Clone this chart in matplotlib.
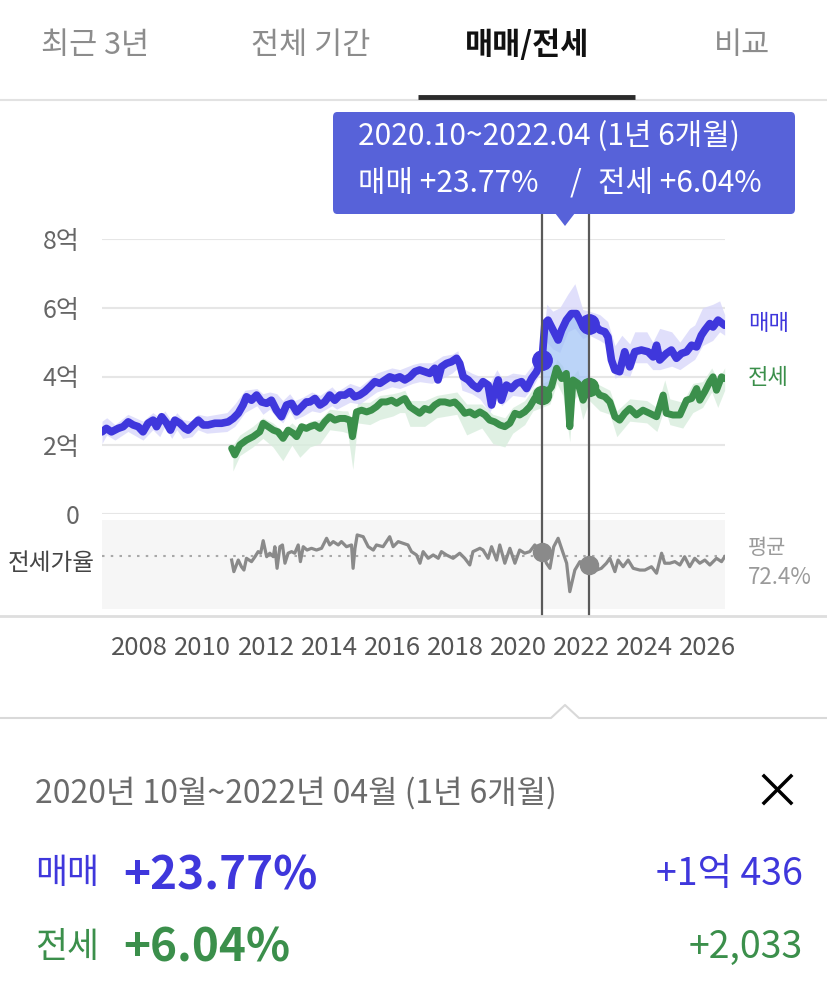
import numpy as np
import matplotlib
matplotlib.use("Agg")
import matplotlib.pyplot as plt
from matplotlib.patches import FancyBboxPatch, Polygon
from matplotlib.lines import Line2D

plt.rcParams['font.family'] = ['Noto Sans CJK KR', 'DejaVu Sans']

# ---- data (prices in 억 원, dates as decimal years) ----
# 매매 (sale) price line
blue_pts = [
    (2006.80, 2.39), (2006.94, 2.49), (2007.10, 2.39), (2007.31, 2.49), (2007.47, 2.54),
    (2007.63, 2.68), (2007.79, 2.59), (2007.95, 2.54), (2008.10, 2.39), (2008.26, 2.64),
    (2008.42, 2.73), (2008.53, 2.54), (2008.69, 2.83), (2008.85, 2.64), (2008.97, 2.44),
    (2009.11, 2.73), (2009.27, 2.64), (2009.43, 2.49), (2009.53, 2.44), (2009.69, 2.59),
    (2009.85, 2.73), (2010.01, 2.59), (2010.16, 2.59), (2010.38, 2.64), (2010.59, 2.64),
    (2010.80, 2.68), (2010.96, 2.78), (2011.12, 2.93), (2011.27, 3.17), (2011.38, 3.41),
    (2011.54, 3.31), (2011.70, 3.46), (2011.86, 3.26), (2012.02, 3.22), (2012.17, 3.31),
    (2012.33, 3.02), (2012.49, 2.83), (2012.65, 3.17), (2012.81, 3.22), (2012.97, 2.97),
    (2013.13, 3.12), (2013.28, 3.26), (2013.39, 3.26), (2013.55, 3.36), (2013.71, 3.17),
    (2013.86, 3.26), (2014.02, 3.46), (2014.18, 3.31), (2014.34, 3.46), (2014.50, 3.46),
    (2014.66, 3.56), (2014.81, 3.41), (2014.97, 3.46), (2015.13, 3.56), (2015.29, 3.70),
    (2015.45, 3.85), (2015.61, 3.80), (2015.77, 3.90), (2015.92, 3.99), (2016.08, 3.94),
    (2016.24, 3.99), (2016.40, 3.90), (2016.56, 3.99), (2016.72, 4.14), (2016.87, 4.19),
    (2017.03, 4.14), (2017.19, 4.09), (2017.35, 4.24), (2017.45, 3.90), (2017.56, 4.28),
    (2017.72, 4.38), (2017.88, 4.43), (2018.04, 4.53), (2018.14, 4.38), (2018.25, 3.99),
    (2018.41, 3.90), (2018.56, 3.75), (2018.72, 3.65), (2018.88, 3.85), (2019.04, 3.75),
    (2019.15, 3.17), (2019.25, 3.60), (2019.36, 3.90), (2019.46, 3.31), (2019.62, 3.75),
    (2019.78, 3.65), (2019.94, 3.80), (2020.10, 3.85), (2020.26, 3.65), (2020.42, 3.94),
    (2020.57, 4.13), (2020.75, 4.48), (2020.84, 5.54), (2020.94, 5.64), (2021.10, 5.35),
    (2021.26, 5.06), (2021.37, 5.35), (2021.52, 5.64), (2021.68, 5.83), (2021.84, 5.83),
    (2021.95, 5.64), (2022.05, 5.44), (2022.25, 5.54), (2022.42, 5.49), (2022.58, 5.35),
    (2022.74, 5.30), (2022.84, 5.15), (2022.95, 4.48), (2023.06, 4.19), (2023.21, 4.14),
    (2023.37, 4.72), (2023.53, 4.28), (2023.69, 4.72), (2023.90, 4.77), (2024.11, 4.72),
    (2024.27, 4.57), (2024.38, 4.91), (2024.48, 4.48), (2024.69, 4.67), (2024.85, 4.77),
    (2025.01, 4.53), (2025.17, 4.67), (2025.33, 4.72), (2025.49, 4.91), (2025.65, 4.86),
    (2025.80, 5.20), (2025.91, 5.35), (2026.07, 5.54), (2026.17, 5.44), (2026.33, 5.64),
    (2026.54, 5.49)]

# 매매 range band: (date, low, high)
blue_band = [
    (2006.80, 2.05, 2.70), (2006.95, 2.30, 2.80), (2007.21, 2.15, 2.60), (2007.62, 2.40, 2.90),
    (2008.10, 2.15, 2.70), (2008.41, 2.45, 2.95), (2008.63, 2.25, 2.80), (2008.79, 2.55, 3.00),
    (2009.01, 2.20, 2.70), (2009.17, 2.45, 2.95), (2009.36, 2.20, 2.75), (2009.65, 2.25, 2.70),
    (2009.84, 2.45, 2.90), (2010.12, 2.35, 2.85), (2010.76, 2.40, 2.95), (2011.01, 2.55, 3.20),
    (2011.33, 2.95, 3.60), (2011.71, 3.15, 3.65), (2011.90, 2.90, 3.50), (2012.12, 3.05, 3.55),
    (2012.34, 2.80, 3.50), (2012.53, 2.65, 3.30), (2012.75, 3.00, 3.50), (2012.91, 2.75, 3.30),
    (2013.17, 2.85, 3.40), (2013.45, 3.00, 3.55), (2013.71, 2.95, 3.45), (2014.09, 3.15, 3.70),
    (2014.24, 3.05, 3.55), (2014.66, 3.25, 3.80), (2014.97, 3.20, 3.70), (2015.51, 3.55, 4.10),
    (2015.99, 3.70, 4.25), (2016.24, 3.65, 4.20), (2016.65, 3.80, 4.35), (2016.87, 3.85, 4.40),
    (2017.26, 3.80, 4.40), (2017.60, 3.95, 4.60), (2017.90, 4.10, 4.65), (2018.08, 4.25, 4.75),
    (2018.21, 3.60, 4.25), (2018.52, 3.50, 4.10), (2018.78, 3.35, 4.00), (2019.09, 2.95, 3.80),
    (2019.32, 3.40, 4.20), (2019.47, 3.15, 3.95), (2019.82, 3.45, 4.10), (2020.20, 3.40, 4.05),
    (2020.46, 3.70, 4.35), (2020.75, 4.20, 4.80), (2020.90, 5.00, 6.10), (2021.09, 4.80, 5.90),
    (2021.31, 4.70, 6.00), (2021.57, 5.30, 6.40), (2021.79, 5.40, 6.70), (2022.04, 5.10, 5.95),
    (2022.25, 5.20, 5.90), (2022.58, 5.05, 5.80), (2022.83, 4.90, 5.60), (2023.06, 3.95, 4.90),
    (2023.28, 4.05, 5.20), (2023.53, 4.00, 4.95), (2023.69, 4.40, 5.30), (2024.07, 4.40, 5.30),
    (2024.26, 4.20, 5.00), (2024.48, 4.20, 5.40), (2024.86, 4.30, 5.30), (2025.12, 4.20, 5.00),
    (2025.43, 4.40, 5.40), (2025.59, 4.50, 5.50), (2025.84, 4.90, 6.00), (2026.16, 5.05, 6.10),
    (2026.38, 5.30, 6.20), (2026.54, 5.20, 5.80)]

# 전세 (jeonse) price line
green_pts = [
    (2010.91, 1.91), (2011.01, 1.72), (2011.17, 2.01), (2011.38, 2.15), (2011.59, 2.25),
    (2011.80, 2.39), (2011.91, 2.64), (2012.07, 2.54), (2012.23, 2.44), (2012.38, 2.39),
    (2012.54, 2.20), (2012.70, 2.44), (2012.86, 2.35), (2012.97, 2.25), (2013.13, 2.54),
    (2013.28, 2.49), (2013.39, 2.54), (2013.55, 2.59), (2013.71, 2.49), (2013.86, 2.68),
    (2014.02, 2.83), (2014.18, 2.73), (2014.34, 2.78), (2014.50, 2.78), (2014.66, 2.73),
    (2014.74, 2.25), (2014.87, 2.97), (2015.03, 3.02), (2015.19, 2.97), (2015.34, 3.02),
    (2015.50, 3.12), (2015.66, 3.26), (2015.82, 3.26), (2015.98, 3.31), (2016.14, 3.22),
    (2016.29, 3.31), (2016.40, 3.36), (2016.56, 3.12), (2016.72, 3.02), (2016.87, 2.93),
    (2017.03, 3.07), (2017.19, 3.02), (2017.35, 3.17), (2017.51, 3.26), (2017.67, 3.26),
    (2017.83, 3.22), (2017.98, 3.26), (2018.14, 3.12), (2018.30, 2.93), (2018.46, 2.97),
    (2018.62, 2.88), (2018.78, 2.97), (2018.94, 2.88), (2019.09, 2.73), (2019.25, 2.68),
    (2019.41, 2.59), (2019.57, 2.54), (2019.73, 2.64), (2019.89, 2.93), (2020.04, 2.88),
    (2020.20, 2.97), (2020.36, 3.12), (2020.52, 3.37), (2020.75, 3.46), (2020.89, 3.51),
    (2021.05, 3.70), (2021.21, 4.24), (2021.37, 3.94), (2021.52, 4.09), (2021.63, 2.54),
    (2021.73, 3.90), (2021.89, 3.80), (2022.05, 3.31), (2022.25, 3.70), (2022.42, 3.65),
    (2022.58, 3.46), (2022.74, 3.41), (2022.90, 3.26), (2023.06, 2.83), (2023.21, 2.73),
    (2023.37, 2.93), (2023.53, 3.07), (2023.74, 2.88), (2023.95, 3.02), (2024.16, 2.93),
    (2024.38, 2.83), (2024.59, 3.46), (2024.69, 2.93), (2024.90, 2.88), (2025.12, 2.88),
    (2025.33, 3.31), (2025.49, 3.36), (2025.65, 3.65), (2025.75, 3.31), (2025.91, 3.56),
    (2026.07, 3.85), (2026.17, 3.99), (2026.28, 3.60), (2026.44, 3.99), (2026.54, 3.94)]

# 전세 range band: (date, low, high)
green_band = [
    (2010.95, 1.25, 2.00), (2011.17, 1.70, 2.30), (2011.58, 1.95, 2.55), (2011.90, 2.20, 2.80),
    (2012.22, 1.95, 2.65), (2012.53, 1.55, 2.40), (2012.82, 2.00, 2.65), (2013.07, 1.65, 2.45),
    (2013.39, 1.95, 2.70), (2013.71, 2.05, 2.75), (2014.02, 2.45, 3.05), (2014.43, 2.40, 3.00),
    (2014.59, 2.35, 3.00), (2014.75, 1.30, 2.60), (2014.91, 2.65, 3.25), (2015.29, 2.60, 3.25),
    (2015.61, 2.75, 3.45), (2016.02, 2.85, 3.50), (2016.24, 2.95, 3.55), (2016.40, 2.95, 3.60),
    (2016.56, 2.55, 3.30), (2017.03, 2.55, 3.30), (2017.41, 2.80, 3.45), (2018.05, 2.90, 3.55),
    (2018.36, 2.30, 3.20), (2018.84, 2.50, 3.20), (2019.19, 2.05, 2.90), (2019.57, 1.95, 2.80),
    (2019.82, 2.35, 3.10), (2020.20, 2.60, 3.30), (2020.46, 3.00, 3.65), (2020.75, 3.10, 3.80),
    (2021.00, 3.20, 3.90), (2021.22, 3.80, 4.50), (2021.41, 3.45, 4.30), (2021.63, 2.10, 3.20),
    (2021.72, 3.30, 4.00), (2021.88, 3.45, 4.20), (2022.04, 2.75, 3.60), (2022.25, 3.30, 3.95),
    (2022.58, 3.00, 3.75), (2022.90, 2.90, 3.60), (2023.12, 2.25, 3.00), (2023.53, 2.70, 3.35),
    (2024.07, 2.65, 3.30), (2024.39, 2.40, 3.10), (2024.64, 3.10, 3.90), (2024.80, 2.60, 3.35),
    (2025.21, 2.50, 3.25), (2025.53, 2.95, 3.80), (2025.84, 3.10, 3.85), (2026.13, 3.55, 4.25),
    (2026.32, 3.10, 3.90), (2026.54, 3.60, 4.25)]

# 전세가율 (jeonse / sale ratio, %)
ratio_pts = [
    (2010.91, 69.8), (2010.98, 62.5), (2011.12, 69.8), (2011.22, 65.6), (2011.30, 63.5),
    (2011.38, 70.9), (2011.54, 68.8), (2011.65, 71.9), (2011.75, 75.1), (2011.83, 74.1),
    (2011.91, 82.0), (2012.02, 71.9), (2012.12, 74.1), (2012.23, 71.9), (2012.28, 78.2),
    (2012.35, 64.6), (2012.44, 78.2), (2012.52, 79.3), (2012.60, 67.8), (2012.70, 74.1),
    (2012.81, 75.1), (2012.91, 74.1), (2013.02, 79.3), (2013.09, 68.8), (2013.18, 78.2),
    (2013.30, 76.1), (2013.44, 77.2), (2013.60, 76.1), (2013.76, 77.2), (2013.92, 83.5),
    (2014.02, 79.3), (2014.13, 81.4), (2014.29, 79.3), (2014.39, 81.4), (2014.55, 78.2),
    (2014.71, 79.3), (2014.76, 64.6), (2014.82, 77.2), (2014.89, 85.6), (2015.08, 84.5),
    (2015.24, 78.2), (2015.40, 76.1), (2015.50, 79.3), (2015.71, 78.2), (2015.92, 84.5),
    (2016.03, 78.2), (2016.19, 81.4), (2016.35, 80.3), (2016.50, 79.3), (2016.61, 75.1),
    (2016.77, 73.0), (2016.88, 67.8), (2016.98, 75.1), (2017.14, 70.9), (2017.30, 73.0),
    (2017.46, 70.9), (2017.56, 75.1), (2017.72, 73.0), (2017.93, 70.9), (2018.14, 74.1),
    (2018.30, 70.9), (2018.46, 66.7), (2018.56, 75.1), (2018.78, 77.2), (2018.88, 76.1),
    (2019.04, 70.9), (2019.15, 78.2), (2019.31, 69.8), (2019.41, 79.3), (2019.57, 67.8),
    (2019.73, 77.2), (2019.89, 67.8), (2020.04, 76.1), (2020.20, 74.1), (2020.36, 75.1),
    (2020.52, 79.3), (2020.75, 75.1), (2020.89, 67.8), (2021.00, 64.6), (2021.12, 78.2),
    (2021.26, 83.5), (2021.42, 74.1), (2021.53, 67.8), (2021.63, 49.9), (2021.79, 63.5),
    (2021.95, 68.8), (2022.25, 66.7), (2022.48, 63.5), (2022.63, 64.6), (2022.79, 67.8),
    (2022.90, 70.9), (2023.06, 62.5), (2023.16, 69.8), (2023.32, 65.6), (2023.48, 69.8),
    (2023.64, 64.6), (2023.85, 63.5), (2024.01, 63.5), (2024.22, 65.6), (2024.38, 61.5),
    (2024.54, 74.1), (2024.64, 67.8), (2024.80, 67.8), (2024.96, 68.8), (2025.12, 66.7),
    (2025.27, 71.9), (2025.43, 65.6), (2025.59, 70.9), (2025.75, 67.8), (2025.91, 69.8),
    (2026.07, 66.7), (2026.28, 70.9), (2026.44, 68.8), (2026.54, 71.9)]
ratio_avg = 72.4

sel_start, sel_end = 2020.75, 2022.25
y_ticks = [0, 2, 4, 6, 8]
y_labels = ['0', '2억', '4억', '6억', '8억']
x_ticks = list(range(2008, 2027, 2))
tabs = ['최근 3년', '전체 기간', '매매/전세', '비교']

BLUE = '#3f37dc'
GREEN = '#3b8f4b'
GRAY = '#8a8a8a'
VLINE = '#5a5a5a'

W, H = 827, 991
def fx(px): return px / W
def fy(py): return 1 - py / H

bx, by = map(np.array, zip(*blue_pts))
gx, gy = map(np.array, zip(*green_pts))
rx, ry = map(np.array, zip(*ratio_pts))
bbx, bblo, bbhi = map(np.array, zip(*blue_band))
gbx, gblo, gbhi = map(np.array, zip(*green_band))

fig = plt.figure(figsize=(8.27, 9.91), dpi=100)

# ---- tabs ----
for name, cx in zip(tabs, [95, 311, 527, 742]):
    active = name == '매매/전세'
    fig.text(fx(cx), fy(45), name, ha='center', va='center', fontsize=22,
             color='#111111' if active else '#8c8c8c',
             fontweight='bold' if active else 'normal')
fig.add_artist(Line2D([0, 1], [fy(100)] * 2, color='#e2e2e2', lw=1.5))
fig.add_artist(Line2D([fx(418), fx(635)], [fy(97)] * 2, color='#2b2b2b', lw=3.5,
                      solid_capstyle='butt'))

# ---- main price chart ----
ax = fig.add_axes([fx(102), fy(514), fx(725) - fx(102), fy(239) - fy(514)])
ax.set_xlim(2006.8, 2026.55)
ax.set_ylim(0, 8)
for s in ax.spines.values():
    s.set_visible(False)
ax.set_yticks(y_ticks)
ax.set_yticklabels(y_labels)
ax.tick_params(axis='y', length=0, pad=16, labelsize=18, labelcolor='#666666')
ax.set_xticks([])
ax.grid(axis='y', color='#e6e6e6', lw=1.5)
ax.set_axisbelow(True)

ax.fill_between(gbx, gblo, gbhi, color='#d8eddd', lw=0, alpha=0.8)
ax.fill_between(bbx, bblo, bbhi, color='#d9d8fa', lw=0, alpha=0.8)

ax.plot(gx, gy, color=GREEN, lw=5, solid_joinstyle='round', solid_capstyle='round')
mb = (bx >= sel_start) & (bx <= sel_end)
mg = (gx >= sel_start) & (gx <= sel_end)
ax.fill(np.r_[bx[mb], gx[mg][::-1]], np.r_[by[mb], gy[mg][::-1]],
        color='#9fc2f6', alpha=0.7, lw=0)
ax.plot(bx, by, color=BLUE, lw=5.5, solid_joinstyle='round', solid_capstyle='round')

for t in (sel_start, sel_end):
    ax.plot([t], [np.interp(t, bx, by)], 'o', color=BLUE, ms=14)
    ax.plot([t], [np.interp(t, gx, gy)], 'o', color=GREEN, ms=13)
    ax.axvline(t, ymin=-0.371, ymax=1.091, color=VLINE, lw=1.6, clip_on=False, zorder=5)

fig.text(fx(748), fy(324), '매매', color=BLUE, fontsize=16, va='center')
fig.text(fx(748), fy(378), '전세', color=GREEN, fontsize=16, va='center')

# ---- jeonse ratio panel ----
axr = fig.add_axes([fx(102), fy(609), fx(725) - fx(102), fy(520) - fy(609)])
axr.set_facecolor('#f6f6f6')
axr.set_xlim(2006.8, 2026.55)
axr.set_ylim(39, 95)
for s in axr.spines.values():
    s.set_visible(False)
axr.set_yticks([])
axr.set_xticks(x_ticks)
axr.set_xticklabels([str(v) for v in x_ticks])
axr.tick_params(axis='x', length=0, pad=19, labelsize=18.5, labelcolor='#555555')
axr.axhline(ratio_avg, color='#a8a8a8', lw=1.5, ls=(0, (1.2, 3)))
axr.plot(rx, ry, color=GRAY, lw=2.3)
for t in (sel_start, sel_end):
    axr.axvline(t, color=VLINE, lw=1.6, zorder=1)
    axr.plot([t], [np.interp(t, rx, ry)], 'o', color=GRAY, ms=13, zorder=3)

fig.text(fx(8), fy(563), '전세가율', fontsize=17, color='#444444', va='center')
fig.text(fx(748), fy(548), '평균', fontsize=15, color='#9a9a9a', va='center')
fig.text(fx(748), fy(577), f'{ratio_avg}%', fontsize=16, color='#9a9a9a', va='center')
fig.add_artist(Line2D([0, 1], [fy(616)] * 2, color='#dedede', lw=2))

# ---- tooltip ----
fig.add_artist(FancyBboxPatch((fx(333), fy(214)), fx(795) - fx(333), fy(112) - fy(214),
                              boxstyle='round,pad=0,rounding_size=0.005',
                              transform=fig.transFigure, fc='#5762d9', ec='none'))
fig.add_artist(Polygon([(fx(555), fy(213)), (fx(575), fy(213)), (fx(565), fy(226))],
                       closed=True, transform=fig.transFigure, fc='#5762d9', ec='none'))
fig.text(fx(358), fy(137), '2020.10~2022.04 (1년 6개월)', color='white', fontsize=21.5, va='center')
fig.text(fx(358), fy(183), '매매 +23.77%', color='white', fontsize=21.5, va='center')
fig.text(fx(576), fy(183), '/', color='white', fontsize=21.5, va='center', ha='center')
fig.text(fx(598), fy(183), '전세 +6.04%', color='white', fontsize=21.5, va='center')

# ---- bottom summary ----
fig.add_artist(Line2D([0, fx(551), fx(565), fx(579), 1],
                      [fy(718), fy(718), fy(705), fy(718), fy(718)], color='#d9d9d9', lw=1.5))
fig.text(fx(35), fy(793), '2020년 10월~2022년 04월 (1년 6개월)', fontsize=23,
         color='#6b6b6b', va='center')
fig.add_artist(Line2D([fx(764), fx(791)], [fy(776), fy(803)], color='black', lw=2.5))
fig.add_artist(Line2D([fx(764), fx(791)], [fy(803), fy(776)], color='black', lw=2.5))

fig.text(fx(35), fy(874), '매매', fontsize=25, color=BLUE, va='center')
fig.text(fx(123), fy(876), '+23.77%', fontsize=33, color=BLUE, va='center', fontweight='bold')
fig.text(fx(803), fy(874), '+1억 436', fontsize=27, color=BLUE, va='center', ha='right')
fig.text(fx(35), fy(947), '전세', fontsize=25, color=GREEN, va='center')
fig.text(fx(123), fy(949), '+6.04%', fontsize=33, color=GREEN, va='center', fontweight='bold')
fig.text(fx(803), fy(947), '+2,033', fontsize=27, color=GREEN, va='center', ha='right')

fig.savefig('out.png', dpi=100)
